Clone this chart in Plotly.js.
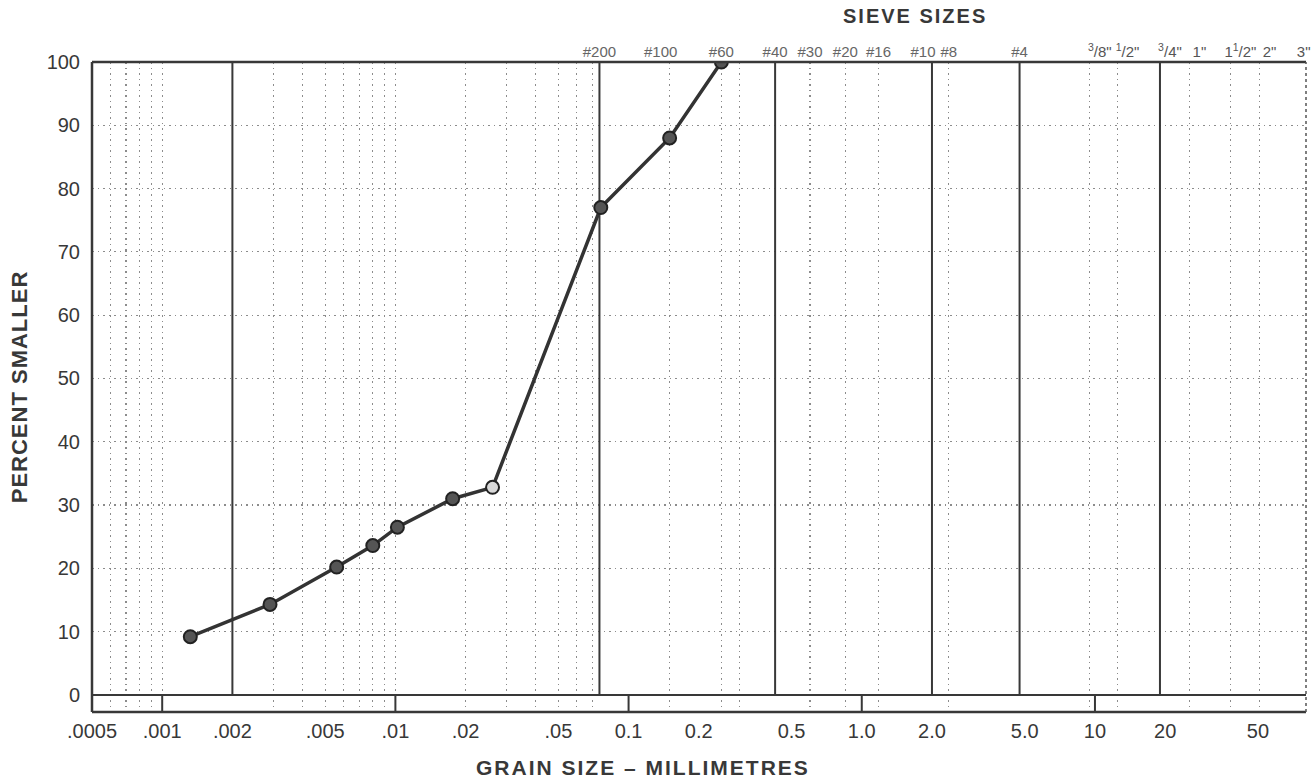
<!DOCTYPE html>
<html><head><meta charset="utf-8">
<script src="https://cdn.plot.ly/plotly-3.0.1.min.js"></script>
<style>
html,body{margin:0;padding:0;background:#fff}
#chart{width:1314px;height:781px}
.annotation-text{letter-spacing:2px}
.ytitle{letter-spacing:1px}
</style>
</head><body><div id="chart"></div>
<script>
// ---- data ----
const grainSize      = [0.00132, 0.0029, 0.0056, 0.0080, 0.0102, 0.0176, 0.0261, 0.076, 0.150, 0.250];
const percentSmaller = [9.2, 14.3, 20.2, 23.6, 26.5, 31.0, 32.8, 77.0, 88.0, 100.0];
const hollowPoint    = [false, false, false, false, false, false, true, false, false, false];

const bottomTickVals = [0.0005, 0.001, 0.002, 0.005, 0.01, 0.02, 0.05, 0.1, 0.2, 0.5, 1, 2, 5, 10, 20, 50];
const bottomTickText = ['.0005', '.001', '.002', '.005', '.01', '.02', '.05', '0.1', '0.2', '0.5', '1.0', '2.0', '5.0', '10', '20', '50'];

const meshSieveSizes  = [0.075, 0.15, 0.25, 0.425, 0.6, 0.85, 1.18, 2.0, 2.36, 4.75];
const meshSieveLabels = ['#200', '#100', '#60', '#40', '#30', '#20', '#16', '#10', '#8', '#4'];
const inchSieveSizes  = [9.5, 12.5, 19, 25.4, 38.1, 50.8, 76.2];
const inchSieveLabels = ['<sup>3</sup>/8"', '<sup>1</sup>/2"', '<sup>3</sup>/4"', '1"', '1<sup>1</sup>/2"', '2"', '3"'];

const boundarySizes = [0.002, 0.075, 0.425, 2.0, 4.75, 19];
const decadeSizes   = [0.001, 0.01, 0.1, 1, 10];
const gridSizes = [0.0006, 0.0007, 0.0008, 0.0009, 0.001,
                   0.003, 0.004, 0.005, 0.006, 0.007, 0.008, 0.009, 0.01,
                   0.02, 0.03, 0.04, 0.05, 0.06, 0.07,
                   0.15, 0.25, 0.3, 0.6, 0.85, 1.18, 2.36, 9.5, 12.5, 25.4, 38.1, 50.8];
const percentTicks = [0, 10, 20, 30, 40, 50, 60, 70, 80, 90, 100];

// ---- drawing ----
const X_RANGE = [Math.log10(0.0005), 1.905];
const Y_RANGE = [-2.7, 100];
const FONT = 'Liberation Sans, Arial, sans-serif';
const INK = '#383838';
const GRID = '#8c8c8c';
const GRID_DASH = '1.5px,4px';

// how the printed sieve labels sit relative to their sieve line (px)
function labelNudge(text, isInch) {
  if (text === '#100' || text === '#10') return -9;
  if (text === '3"') return 3;
  return isInch ? 10 : 0;
}
const sieveGroups = {};
meshSieveSizes.forEach((v, i) => {
  const s = labelNudge(meshSieveLabels[i], false), k = 'm' + s;
  (sieveGroups[k] = sieveGroups[k] || {shift: s, color: '#666', vals: [], text: []});
  sieveGroups[k].vals.push(v); sieveGroups[k].text.push(meshSieveLabels[i]);
});
inchSieveSizes.forEach((v, i) => {
  const s = labelNudge(inchSieveLabels[i], true), k = 'i' + s;
  (sieveGroups[k] = sieveGroups[k] || {shift: s, color: '#555', vals: [], text: []});
  sieveGroups[k].vals.push(v); sieveGroups[k].text.push(inchSieveLabels[i]);
});

function verticals(vals, y0, y1) {
  const x = [], y = [];
  vals.forEach(v => { x.push(v, v, null); y.push(y0, y1, null); });
  return {x, y};
}
const bnd = verticals(boundarySizes, 0, 100);
const dec = verticals(decadeSizes, Y_RANGE[0], 0);
const dummy = (xs, ax) => ({x: xs, y: xs.map(() => null), xaxis: ax, mode: 'markers', hoverinfo: 'skip', showlegend: false});

const traces = [
  {x: bnd.x, y: bnd.y, mode: 'lines', line: {color: INK, width: 2}, hoverinfo: 'skip', showlegend: false},
  {x: dec.x, y: dec.y, mode: 'lines', line: {color: INK, width: 2}, hoverinfo: 'skip', showlegend: false},
  {x: grainSize, y: percentSmaller, mode: 'lines+markers', name: 'Percent smaller',
   line: {color: '#333', width: 3.5},
   marker: {size: 13, color: hollowPoint.map(h => h ? '#d8d8d8' : '#555'),
            line: {color: '#222', width: 2}},
   showlegend: false},
  dummy(gridSizes, 'x2')
];

const baseX = {type: 'log', range: X_RANGE, autorange: false, showgrid: false, zeroline: false,
               showline: false, ticks: '', fixedrange: true, tickangle: 0, ticklabeloverflow: 'allow'};

const layout = {
  width: 1314, height: 781,
  margin: {l: 92, r: 8, t: 62, b: 69},
  paper_bgcolor: '#fff', plot_bgcolor: '#fff',
  font: {family: FONT, color: INK},
  showlegend: false,
  xaxis: Object.assign({}, baseX, {
    tickmode: 'array', tickvals: bottomTickVals, ticktext: bottomTickText,
    tickfont: {family: FONT, size: 20, color: INK}, ticklabelstandoff: 5
  }),
  xaxis2: Object.assign({}, baseX, {
    overlaying: 'x', anchor: 'y',
    tickmode: 'array', tickvals: gridSizes, showticklabels: false,
    showgrid: true, gridcolor: GRID, gridwidth: 1.2, griddash: GRID_DASH
  }),
  yaxis: {
    range: Y_RANGE, autorange: false, fixedrange: true,
    tickmode: 'array', tickvals: percentTicks,
    showgrid: true, gridcolor: GRID, gridwidth: 1.2, griddash: GRID_DASH,
    zeroline: false, showline: false, ticks: '',
    tickfont: {family: FONT, size: 20, color: INK}, ticklabelstandoff: 11,
    title: {text: 'PERCENT SMALLER', font: {family: FONT, size: 22, color: INK, weight: 'bold'}, standoff: 12}
  },
  shapes: [
    {type: 'line', xref: 'paper', yref: 'paper', x0: 0, x1: 0, y0: 0, y1: 1, line: {color: INK, width: 2.5}},
    {type: 'line', xref: 'paper', yref: 'paper', x0: 0, x1: 1, y0: 1, y1: 1, line: {color: INK, width: 2.5}},
    {type: 'line', xref: 'paper', yref: 'paper', x0: 0, x1: 1, y0: 0, y1: 0, line: {color: INK, width: 2.5}},
    {type: 'line', xref: 'paper', yref: 'paper', x0: 1, x1: 1, y0: 0, y1: 1, line: {color: '#555', width: 1.5, dash: 'dot'}},
    {type: 'line', xref: 'paper', yref: 'y', x0: 0, x1: 1, y0: 0, y1: 0, line: {color: INK, width: 2}}
  ],
  annotations: [
    {text: '<b>SIEVE SIZES</b>', xref: 'paper', yref: 'paper', x: 0.678, y: 1.070,
     xanchor: 'center', yanchor: 'middle', showarrow: false, font: {family: FONT, size: 20, color: INK}},
    {text: '<b>GRAIN SIZE – MILLIMETRES</b>', xref: 'paper', yref: 'paper', x: 0.454, y: -0.086,
     xanchor: 'center', yanchor: 'middle', showarrow: false, font: {family: FONT, size: 21, color: INK}}
  ]
};

// one top axis per label offset group (all share the bottom axis scale)
let axN = 3;
Object.values(sieveGroups).forEach(g => {
  const name = 'xaxis' + axN, ref = 'x' + axN;
  layout[name] = Object.assign({}, baseX, {
    overlaying: 'x', side: 'top', anchor: 'y',
    tickmode: 'array', tickvals: g.vals, ticktext: g.text,
    tickfont: {family: FONT, size: 15, color: g.color},
    ticklabelstandoff: 1, ticklabelshift: g.shift
  });
  traces.push(dummy(g.vals, ref));
  axN++;
});
// keep the data line on top
const dataTrace = traces.splice(2, 1)[0];
dataTrace.xaxis = 'x2';
traces.push(dataTrace);

Plotly.newPlot('chart', traces, layout, {staticPlot: true, displayModeBar: false});
</script>
</body></html>
